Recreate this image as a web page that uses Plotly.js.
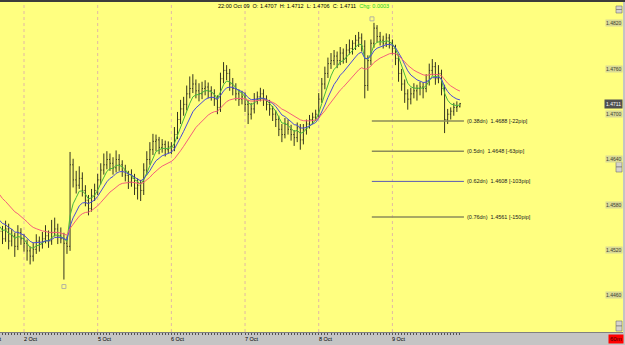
<!DOCTYPE html>
<html><head><meta charset="utf-8">
<script src="https://cdn.plot.ly/plotly-3.0.1.min.js"></script>
<style>html,body{margin:0;padding:0;background:#c0c0c0;}#chart{width:625px;height:345px;}</style>
</head><body><div id="chart"></div>
<script>
// ---- data (EUR/USD hourly, 1 Oct 16:00 .. 9 Oct 22:00) ----
const opens = [
1.4550,1.4542,1.4532,1.4545,1.4529,1.4536,1.4522,1.4540,1.4532,1.4526,
1.4516,1.4509,1.4518,1.4529,1.4525,1.4532,1.4536,1.4529,1.4540,1.4545,
1.4536,1.4532,1.4526,1.4522,1.4630,1.4610,1.4603,1.4612,1.4596,1.4583,
1.4572,1.4589,1.4596,1.4610,1.4623,1.4630,1.4637,1.4632,1.4626,1.4637,
1.4630,1.4623,1.4616,1.4607,1.4612,1.4599,1.4603,1.4596,1.4623,1.4637,
1.4650,1.4661,1.4663,1.4653,1.4657,1.4650,1.4654,1.4653,1.4670,1.4690,
1.4704,1.4710,1.4724,1.4731,1.4737,1.4728,1.4724,1.4731,1.4733,1.4728,
1.4724,1.4717,1.4706,1.4744,1.4755,1.4751,1.4737,1.4731,1.4724,1.4717,
1.4720,1.4710,1.4697,1.4704,1.4717,1.4720,1.4724,1.4717,1.4710,1.4704,
1.4697,1.4690,1.4677,1.4670,1.4684,1.4677,1.4670,1.4666,1.4679,1.4663,
1.4677,1.4684,1.4690,1.4693,1.4697,1.4717,1.4737,1.4751,1.4764,1.4768,
1.4774,1.4768,1.4778,1.4771,1.4782,1.4784,1.4791,1.4795,1.4798,1.4787,
1.4735,1.4768,1.4791,1.4811,1.4800,1.4795,1.4791,1.4798,1.4791,1.4784,
1.4771,1.4751,1.4737,1.4724,1.4717,1.4724,1.4728,1.4731,1.4733,1.4731,
1.4741,1.4755,1.4760,1.4744,1.4751,1.4731,1.4690,1.4697,1.4701,1.4706,
1.4707];
const highs = [
1.4558,1.4549,1.4556,1.4552,1.4545,1.4540,1.4550,1.4546,1.4538,1.4531,
1.4522,1.4527,1.4538,1.4535,1.4541,1.4550,1.4543,1.4557,1.4560,1.4552,
1.4547,1.4540,1.4535,1.4647,1.4638,1.4622,1.4628,1.4620,1.4603,1.4590,
1.4598,1.4605,1.4618,1.4632,1.4645,1.4648,1.4645,1.4640,1.4649,1.4644,
1.4636,1.4630,1.4622,1.4624,1.4618,1.4612,1.4610,1.4632,1.4648,1.4660,
1.4671,1.4670,1.4667,1.4664,1.4662,1.4661,1.4660,1.4680,1.4700,1.4716,
1.4720,1.4735,1.4747,1.4750,1.4743,1.4738,1.4740,1.4742,1.4739,1.4734,
1.4730,1.4722,1.4752,1.4766,1.4762,1.4757,1.4745,1.4738,1.4730,1.4728,
1.4726,1.4716,1.4712,1.4725,1.4727,1.4732,1.4730,1.4722,1.4716,1.4708,
1.4702,1.4695,1.4684,1.4692,1.4690,1.4683,1.4676,1.4686,1.4684,1.4684,
1.4690,1.4696,1.4699,1.4703,1.4725,1.4745,1.4760,1.4772,1.4778,1.4782,
1.4780,1.4786,1.4784,1.4790,1.4796,1.4795,1.4802,1.4806,1.4804,1.4795,
1.4775,1.4796,1.4818,1.4815,1.4806,1.4801,1.4804,1.4803,1.4796,1.4789,
1.4776,1.4757,1.4743,1.4730,1.4732,1.4738,1.4736,1.4740,1.4739,1.4750,
1.4764,1.4770,1.4766,1.4762,1.4756,1.4736,1.4704,1.4706,1.4712,1.4714,
1.4712];
const lows = [
1.4530,1.4525,1.4528,1.4518,1.4522,1.4508,1.4517,1.4524,1.4515,1.4503,
1.4498,1.4502,1.4512,1.4515,1.4519,1.4526,1.4520,1.4524,1.4535,1.4525,
1.4526,1.4478,1.4512,1.4516,1.4600,1.4592,1.4598,1.4588,1.4575,1.4563,
1.4568,1.4582,1.4590,1.4604,1.4617,1.4624,1.4622,1.4617,1.4620,1.4622,
1.4614,1.4608,1.4598,1.4601,1.4590,1.4584,1.4582,1.4590,1.4617,1.4630,
1.4643,1.4648,1.4644,1.4646,1.4641,1.4645,1.4644,1.4648,1.4664,1.4684,
1.4695,1.4702,1.4718,1.4725,1.4718,1.4714,1.4717,1.4722,1.4718,1.4715,
1.4708,1.4697,1.4700,1.4738,1.4742,1.4728,1.4722,1.4715,1.4708,1.4710,
1.4700,1.4684,1.4690,1.4698,1.4710,1.4714,1.4708,1.4702,1.4695,1.4688,
1.4680,1.4668,1.4660,1.4665,1.4670,1.4662,1.4655,1.4660,1.4650,1.4657,
1.4670,1.4678,1.4684,1.4688,1.4692,1.4712,1.4730,1.4745,1.4757,1.4762,
1.4758,1.4762,1.4764,1.4765,1.4776,1.4776,1.4782,1.4786,1.4780,1.4718,
1.4728,1.4762,1.4785,1.4792,1.4788,1.4784,1.4786,1.4784,1.4776,1.4762,
1.4740,1.4728,1.4712,1.4703,1.4710,1.4718,1.4715,1.4722,1.4718,1.4726,
1.4735,1.4748,1.4736,1.4738,1.4722,1.4672,1.4684,1.4690,1.4695,1.4700,
1.4706];
const closes = [
1.4542,1.4532,1.4545,1.4529,1.4536,1.4522,1.4540,1.4532,1.4526,1.4516,
1.4509,1.4518,1.4529,1.4525,1.4532,1.4536,1.4529,1.4540,1.4545,1.4536,
1.4532,1.4526,1.4522,1.4630,1.4610,1.4603,1.4612,1.4596,1.4583,1.4572,
1.4589,1.4596,1.4610,1.4623,1.4630,1.4637,1.4632,1.4626,1.4637,1.4630,
1.4623,1.4616,1.4607,1.4612,1.4599,1.4603,1.4596,1.4623,1.4637,1.4650,
1.4661,1.4663,1.4653,1.4657,1.4650,1.4654,1.4653,1.4670,1.4690,1.4704,
1.4710,1.4724,1.4731,1.4737,1.4728,1.4724,1.4731,1.4733,1.4728,1.4724,
1.4717,1.4706,1.4744,1.4755,1.4751,1.4737,1.4731,1.4724,1.4717,1.4720,
1.4710,1.4697,1.4704,1.4717,1.4720,1.4724,1.4717,1.4710,1.4704,1.4697,
1.4690,1.4677,1.4670,1.4684,1.4677,1.4670,1.4666,1.4679,1.4663,1.4677,
1.4684,1.4690,1.4693,1.4697,1.4717,1.4737,1.4751,1.4764,1.4768,1.4774,
1.4768,1.4778,1.4771,1.4782,1.4784,1.4791,1.4795,1.4798,1.4787,1.4735,
1.4768,1.4791,1.4811,1.4800,1.4795,1.4791,1.4798,1.4791,1.4784,1.4771,
1.4751,1.4737,1.4724,1.4717,1.4724,1.4728,1.4731,1.4733,1.4731,1.4741,
1.4755,1.4760,1.4744,1.4751,1.4731,1.4690,1.4697,1.4701,1.4706,1.4707,
1.4711];

// moving averages (EMA) - periods and starting values read at the left edge
const maPeriods = [5, 10, 20];
const maSeeds   = [1.4552, 1.4560, 1.4596];
const maColors  = ['#48b83c', '#4a4ad8', '#f4607a'];

// day separators (bar index of first bar of each day) and labels
const daySep    = [8, 32, 56, 80, 104, 128];
const dayLabels = ['2 Oct', '5 Oct', '6 Oct', '7 Oct', '8 Oct', '9 Oct'];

// price scale labels
const tickPrices = [1.4820, 1.4760, 1.4700, 1.4640, 1.4580, 1.4520, 1.4460];
const lastPrice  = 1.4711;

// fibonacci retracement levels
const fibRatios = ['0.38', '0.5', '0.62', '0.76'];
const fibPrices = [1.4688, 1.4648, 1.4608, 1.4561];
const fibPips   = [-22, -63, -103, -150];
const fibColors = ['#8c8c5a', '#8c8c5a', '#5a5ab4', '#8c8c5a'];

// header
const header = {time: '22:00 Oct 09', o: '1.4707', h: '1.4712', l: '1.4706', c: '1.4711', chg: '0.0003'};

// ---- build ----
const W = 625, H = 345, mL = 0, mR = 2, mT = 2, mB = 13;
const PW = W - mL - mR, PH = H - mT - mB;
const xIdx = closes.map((_, i) => i);
function ema(vals, period, seed) {
  const a = 2 / (period + 1); let prev = seed;
  return vals.map(v => (prev = prev + a * (v - prev)));
}
const px2x = p => (p - mL) / PW;          // pixel -> paper x
const py2y = p => 1 - (p - mT) / PH;      // pixel -> paper y
const FONT = 'Liberation Sans';

const traces = [{
  type: 'ohlc', x: xIdx, open: opens, high: highs, low: lows, close: closes,
  increasing: {line: {color: '#34341f', width: 1}},
  decreasing: {line: {color: '#34341f', width: 1}},
  tickwidth: 0.3, hoverinfo: 'skip', showlegend: false
}];
maPeriods.forEach((p, k) => traces.push({
  type: 'scatter', mode: 'lines', x: xIdx, y: ema(closes, p, maSeeds[k]),
  line: {color: maColors[k], width: 1}, hoverinfo: 'skip', showlegend: false
}));

const shapes = [], annotations = [];
// top dark border
shapes.push({type: 'rect', xref: 'paper', yref: 'paper', x0: -0.01, x1: 1.01, y0: 1, y1: 1 + mT / PH + 0.01,
  fillcolor: '#3c3c3c', line: {width: 0}, layer: 'above'});
// day separators
daySep.forEach((d, k) => {
  shapes.push({type: 'line', xref: 'x', yref: 'paper', x0: d, x1: d, y0: 0, y1: 1,
    line: {color: '#e2b9a4', width: 1, dash: 'dot'}, layer: 'below'});
  annotations.push({xref: 'x', yref: 'paper', x: d, y: -6.5 / PH, xanchor: 'left', yanchor: 'middle', xshift: -2,
    text: dayLabels[k], showarrow: false, font: {size: 5.5, color: '#000', family: FONT}});
});
annotations.push({xref: 'paper', yref: 'paper', x: px2x(4), y: -6.5 / PH, xanchor: 'right', yanchor: 'middle',
  text: '1 Oct', showarrow: false, font: {size: 5.5, color: '#000', family: FONT}});

// fib anchors
const iHigh = highs.indexOf(Math.max(...highs));
const iLow = lows.indexOf(Math.min(...lows));
shapes.push({type: 'rect', xref: 'x', yref: 'y', xsizemode: 'pixel', ysizemode: 'pixel',
  xanchor: iHigh, yanchor: highs[iHigh], x0: -4, x1: 0, y0: 2, y1: 6,
  line: {color: '#b4b4a0', width: 1}, fillcolor: 'rgba(0,0,0,0)'});
shapes.push({type: 'rect', xref: 'x', yref: 'y', xsizemode: 'pixel', ysizemode: 'pixel',
  xanchor: iLow, yanchor: lows[iLow], x0: -2, x1: 2, y0: -9, y1: -5,
  line: {color: '#b4b4a0', width: 1}, fillcolor: 'rgba(0,0,0,0)'});
// fib lines
const fibEnd = xIdx.length + 0.3;
fibPrices.forEach((p, k) => {
  shapes.push({type: 'line', xref: 'x', yref: 'y', x0: iHigh - 0.7, x1: fibEnd, y0: p, y1: p,
    line: {color: fibColors[k], width: k === 2 ? 1 : 1.5}});
  annotations.push({xref: 'x', yref: 'y', x: fibEnd, y: p, xanchor: 'left', yanchor: 'middle', xshift: 1,
    text: '(' + fibRatios[k] + 'dn)  ' + p.toFixed(4) + ' [' + fibPips[k] + 'pip]', showarrow: false,
    font: {size: 5.5, color: '#202020', family: FONT}});
});

// right price labels
tickPrices.forEach(p => annotations.push({xref: 'paper', yref: 'y', x: 1, y: p, xanchor: 'right', yanchor: 'middle',
  yshift: -2, text: p.toFixed(4), showarrow: false, bgcolor: '#dada96', borderpad: 0,
  font: {size: 5, color: '#404030', family: FONT}}));
annotations.push({xref: 'paper', yref: 'y', x: 1, y: lastPrice, xanchor: 'right', yanchor: 'middle',
  text: lastPrice.toFixed(4), showarrow: false, bgcolor: '#505050', borderpad: 1,
  font: {size: 5, color: '#ffffff', family: FONT}});

// scroll buttons at the right edge
[[6, 9.5], [9.5, 13], [162, 167], [167, 172], [321, 326], [326, 331]].forEach(b =>
  shapes.push({type: 'rect', xref: 'paper', yref: 'paper', x0: px2x(616), x1: px2x(622), y0: py2y(b[1]), y1: py2y(b[0]),
    fillcolor: '#d6d3cc', line: {color: '#707070', width: 0.6}, layer: 'above'}));

// timeframe box
annotations.push({xref: 'paper', yref: 'paper', x: px2x(624), y: -6.5 / PH, xanchor: 'right', yanchor: 'middle',
  text: '60m', showarrow: false, bgcolor: '#ff0000', borderpad: 1, font: {size: 6, color: '#400000', family: FONT}});

// header
annotations.push({xref: 'paper', yref: 'paper', x: px2x(216), y: py2y(5.5), xanchor: 'left', yanchor: 'middle',
  showarrow: false, font: {size: 5.5, color: '#000', family: FONT},
  text: header.time + '  O: ' + header.o + '  H: ' + header.h + '  L: ' + header.l + '  C: ' + header.c +
        '  <span style="color:#20d020">Chg: ' + header.chg + '</span>'});

// price scale: 1.4688 sits at pixel row 121, 7550 px per unit price
const yTop = 1.4688 + (121 - mT) / 7550, yBot = 1.4688 - (mT + PH - 121) / 7550;
const layout = {
  width: W, height: H, margin: {l: mL, r: mR, t: mT, b: mB, pad: 0},
  paper_bgcolor: '#c4c4c4', plot_bgcolor: '#ffff80',
  xaxis: {range: [(0 + 0.56) / 3.07, (PW + 0.56) / 3.07], showgrid: false, zeroline: false,
    rangeslider: {visible: false}, showline: true, linecolor: '#808080', linewidth: 1,
    tickmode: 'array', tickvals: daySep, ticktext: daySep.map(() => ''), ticks: 'outside', ticklen: 5,
    tickcolor: '#303030', tickwidth: 1,
    minor: {tickmode: 'array', tickvals: xIdx, ticks: 'outside', ticklen: 2, tickcolor: '#505050', tickwidth: 1, showgrid: false},
    fixedrange: true},
  yaxis: {range: [yBot, yTop], showgrid: false, zeroline: false, showticklabels: false, ticks: '', fixedrange: true},
  shapes: shapes, annotations: annotations, showlegend: false, hovermode: false,
  font: {family: FONT}
};
Plotly.newPlot('chart', traces, layout, {displayModeBar: false, staticPlot: true});
</script></body></html>
